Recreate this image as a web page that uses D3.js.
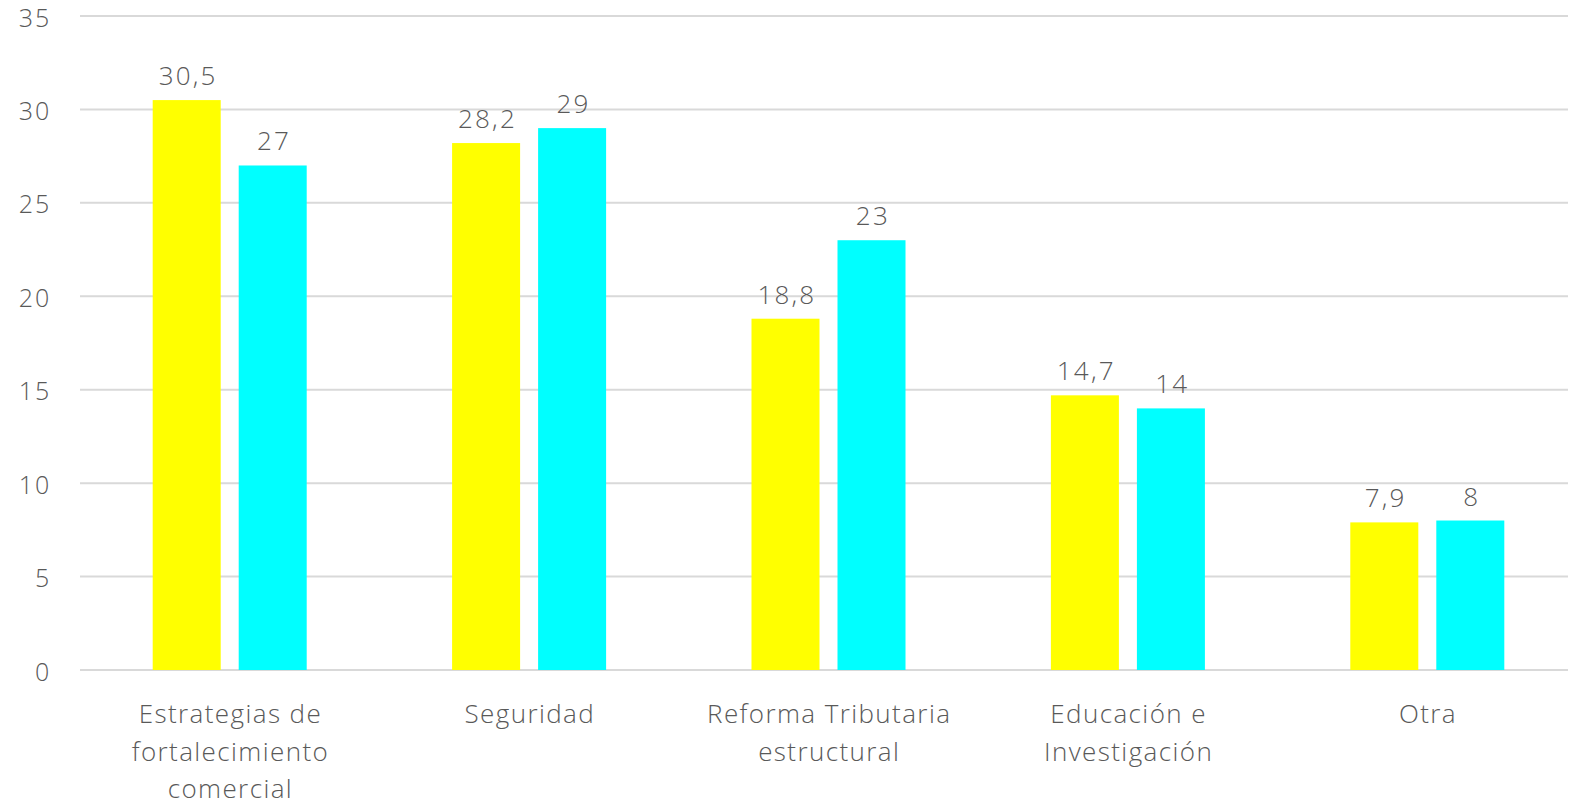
<!DOCTYPE html>
<html><head><meta charset="utf-8">
<script src="https://cdn.jsdelivr.net/npm/d3@7"></script>
<style>html,body{margin:0;padding:0;background:#fff;}svg{display:block;font-family:"Open Sans",sans-serif;font-weight:300;}</style>
</head><body><svg id="c" width="1581" height="810"></svg>
<script>
const categories = ["Estrategias de fortalecimiento comercial","Seguridad","Reforma Tributaria estructural","Educación e Investigación","Otra"];
const categoryLines = [["Estrategias de","fortalecimiento","comercial"],["Seguridad"],["Reforma Tributaria","estructural"],["Educación e","Investigación"],["Otra"]];
const seriesNames = ["Serie 1","Serie 2"];
const series1 = [30.5,28.2,18.8,14.7,7.9];
const series2 = [27,29,23,14,8];
const seriesColors = ["#FFFF00","#00FFFF"];
const yTicks = [0,5,10,15,20,25,30,35];

(function(){
const svg = d3.select("#c");
const mLeft=80,mRight=1568,mTop=16,mBottom=670,bandRight=1577;
const y = d3.scaleLinear().domain([0,35]).range([mBottom,mTop]);
const x0 = d3.scaleBand().domain(categories).range([mLeft,bandRight]).paddingInner(0.4856).paddingOuter(0.2428);
const x1 = d3.scaleBand().domain(seriesNames).range([0,x0.bandwidth()]).paddingInner(0.2093).paddingOuter(0);
const txt="#595959";
const ls=1.4;

svg.append("g").selectAll("line").data(yTicks).join("line")
 .attr("x1",mLeft).attr("x2",mRight).attr("y1",d=>y(d)).attr("y2",d=>y(d))
 .attr("stroke","#d9d9d9").attr("stroke-width",2);
svg.append("g").selectAll("text").data(yTicks).join("text")
 .attr("x",50+ls).attr("y",d=>y(d)).attr("dy","0.42em").attr("text-anchor","end")
 .attr("fill",txt).attr("font-size",25).attr("letter-spacing",2).text(d=>d);

const data = categories.map((c,i)=>({c, vals:[series1[i],series2[i]]}));
const g = svg.append("g").selectAll("g").data(data).join("g")
 .attr("transform",d=>`translate(${x0(d.c)},0)`);
g.selectAll("rect").data(d=>d.vals.map((v,j)=>({s:seriesNames[j],v,j}))).join("rect")
 .attr("x",d=>x1(d.s)).attr("width",x1.bandwidth())
 .attr("y",d=>y(d.v)).attr("height",d=>y(0)-y(d.v))
 .attr("fill",d=>seriesColors[d.j]);
g.selectAll("text").data(d=>d.vals.map((v,j)=>({s:seriesNames[j],v,j}))).join("text")
 .attr("x",d=>x1(d.s)+x1.bandwidth()/2+ls).attr("y",d=>y(d.v)-15)
 .attr("text-anchor","middle").attr("fill",txt).attr("font-size",26).attr("letter-spacing",2.2)
 .text(d=>String(d.v).replace(".",","));

const cl = svg.append("g").selectAll("text").data(categories).join("text")
 .attr("x",d=>x0(d)+x0.bandwidth()/2).attr("y",723)
 .attr("text-anchor","middle").attr("fill",txt).attr("font-size",26).attr("letter-spacing",ls);
cl.each(function(d,i){
  d3.select(this).selectAll("tspan").data(categoryLines[i]).join("tspan")
   .attr("x",x0(d)+x0.bandwidth()/2+ls/2).attr("dy",(t,k)=>k?37.5:0).text(t=>t);
});
})();
</script></body></html>
